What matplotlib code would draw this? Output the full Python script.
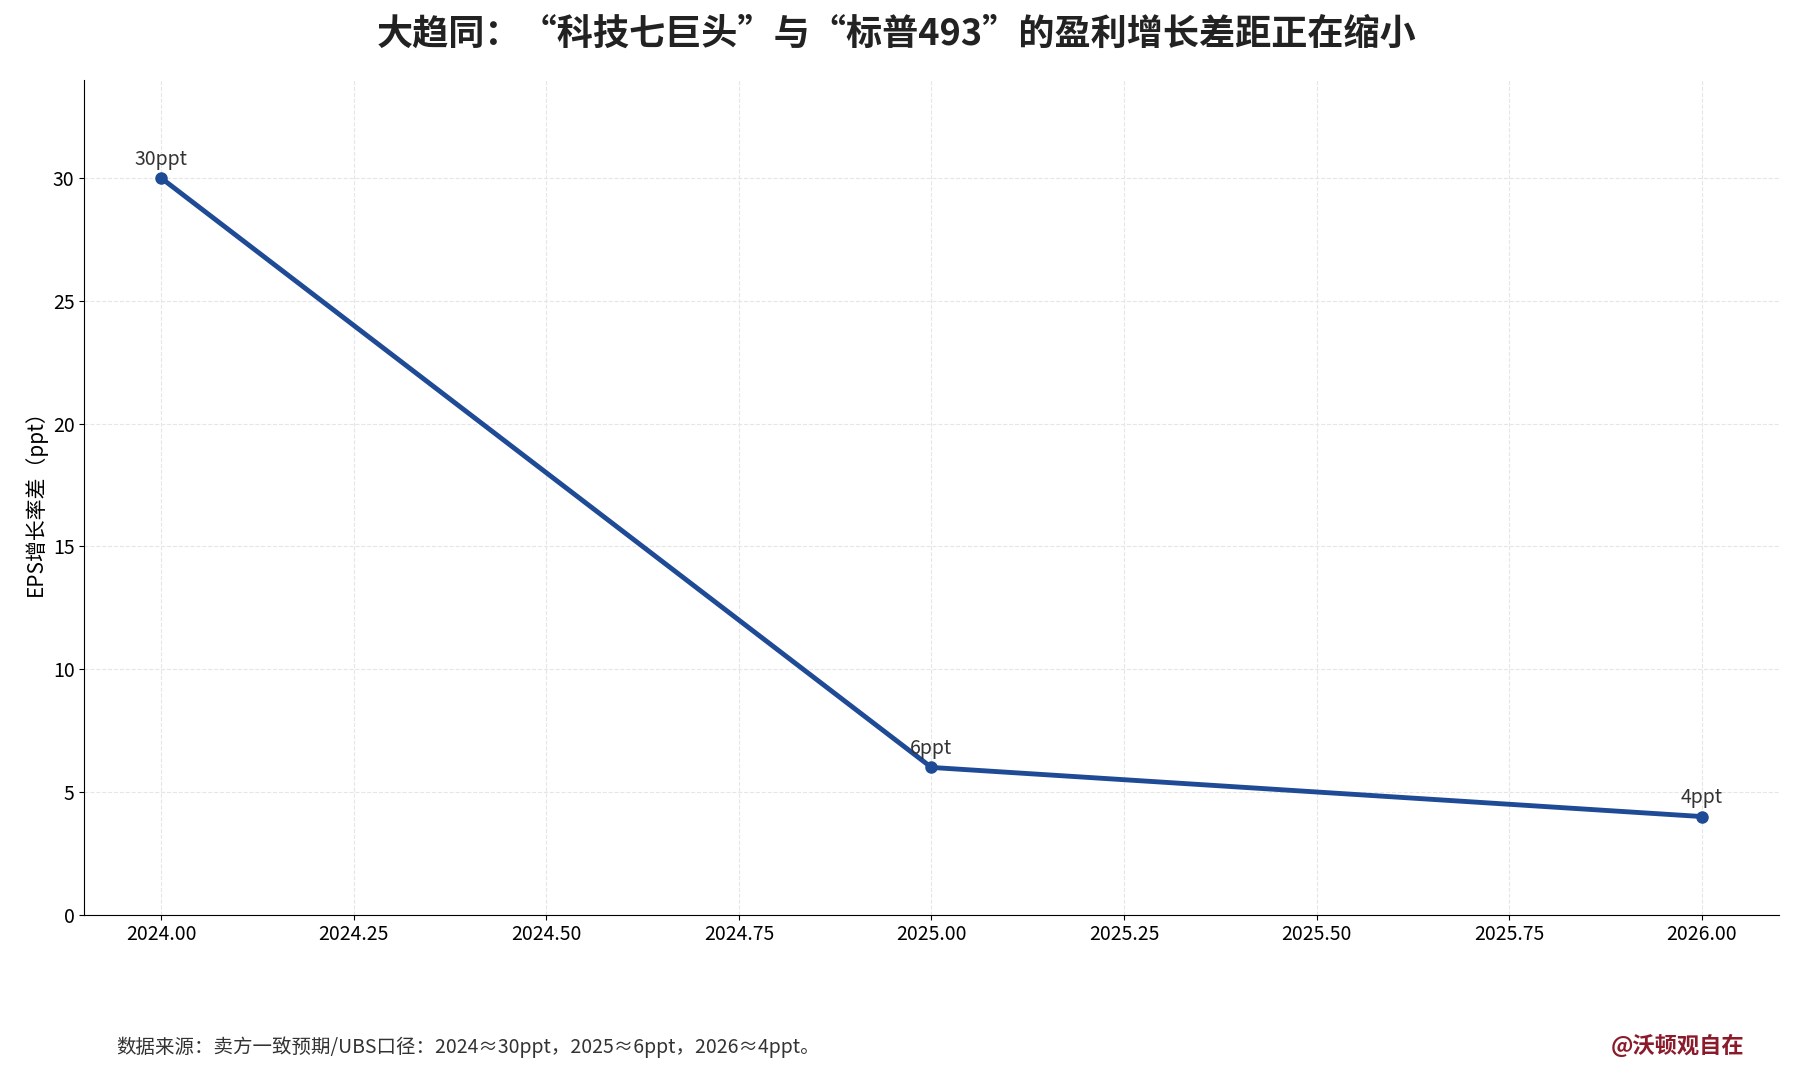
import matplotlib
matplotlib.use("Agg")
import matplotlib.pyplot as plt

plt.rcParams['font.family'] = ['Noto Sans CJK SC', 'DejaVu Sans']

years = [2024, 2025, 2026]
gap = [30, 6, 4]
labels = ["30ppt", "6ppt", "4ppt"]
title = "大趋同：“科技七巨头”与“标普493”的盈利增长差距正在缩小"
ylabel = "EPS增长率差（ppt）"
source = "数据来源：卖方一致预期/UBS口径：2024≈30ppt，2025≈6ppt，2026≈4ppt。"
brand = "@沃顿观自在"

fig = plt.figure(figsize=(17.93, 10.80), dpi=100)
ax = fig.add_axes([0.047, 0.153, 0.945, 0.773])
ax.plot(years, gap, color="#1f4a96", lw=3.5, marker="o", ms=8)
for x, y, t in zip(years, gap, labels):
    ax.annotate(t, (x, y), xytext=(0, 6), textcoords="offset points",
                ha="center", va="bottom", fontsize=14, color="#333333")
ax.set_xlim(2023.9, 2026.1)
ax.set_ylim(0, 34)
ax.set_xticks([2024 + 0.25 * i for i in range(9)])
ax.set_xticklabels([f"{2024 + 0.25 * i:.2f}" for i in range(9)])
ax.tick_params(labelsize=14)
ax.grid(True, ls="--", color="#e6e6e6", lw=0.8)
for s in ["top", "right"]:
    ax.spines[s].set_visible(False)
ax.set_ylabel(ylabel, fontsize=15)
fig.suptitle(title, fontsize=26, fontweight="bold", y=0.985, color="#222222")
fig.text(0.065, 0.025, source, fontsize=14, color="#333333")
fig.text(0.973, 0.025, brand, fontsize=16, color="#8b1a2b", ha="right", fontweight="bold")
fig.savefig("out.png", dpi=100)
